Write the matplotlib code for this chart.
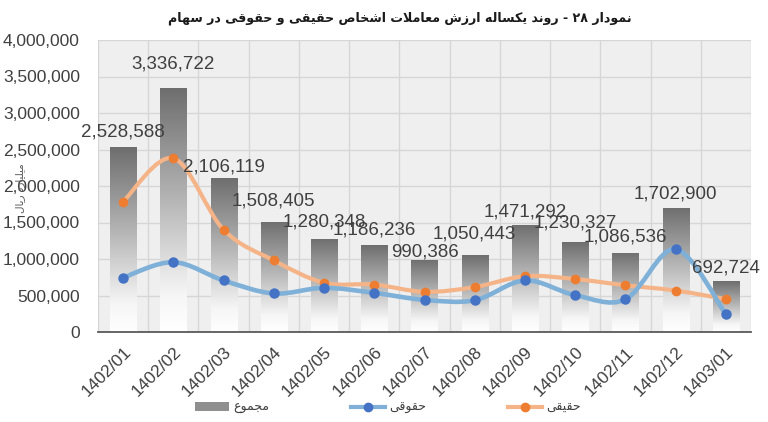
import numpy as np
import matplotlib
matplotlib.use('Agg')
import matplotlib.pyplot as plt
from matplotlib.path import Path
from matplotlib.patches import PathPatch, Patch
from matplotlib.lines import Line2D
from matplotlib.colors import LinearSegmentedColormap
from matplotlib.ticker import FuncFormatter, MultipleLocator

# ---------------- data ----------------
months = ['1402/01', '1402/02', '1402/03', '1402/04', '1402/05', '1402/06', '1402/07',
          '1402/08', '1402/09', '1402/10', '1402/11', '1402/12', '1403/01']
total = [2528588, 3336722, 2106119, 1508405, 1280348, 1186236, 990386,
         1050443, 1471292, 1230327, 1086536, 1702900, 692724]
real = [1785000, 2380000, 1400000, 980000, 675000, 650000, 550000,
        615000, 765000, 725000, 640000, 568000, 450000]
legal = [745000, 957000, 706000, 528000, 605000, 536000, 440000,
         435000, 706000, 505000, 446000, 1135000, 243000]

title_text = 'نمودار ۲۸ - روند یکساله ارزش معاملات اشخاص حقیقی و حقوقی در سهام'
ylabel_text = 'میلیارد ریال'
legend_total = 'مجموع'
legend_legal = 'حقوقی'
legend_real = 'حقیقی'

# vertical offsets (px) of value labels above bar tops (style)
label_dy_px = [15, 24, 11, 21, 17, 15, 8, 21, 13, 19, 16, 14, 13]

# ---------------- simple Arabic/Persian shaping ----------------
FORMS = {
    '\u0627': ('\uFE8D', '\uFE8E', None, None),
    '\u0628': ('\uFE8F', '\uFE90', '\uFE91', '\uFE92'),
    '\u062A': ('\uFE95', '\uFE96', '\uFE97', '\uFE98'),
    '\u062B': ('\uFE99', '\uFE9A', '\uFE9B', '\uFE9C'),
    '\u062C': ('\uFE9D', '\uFE9E', '\uFE9F', '\uFEA0'),
    '\u062D': ('\uFEA1', '\uFEA2', '\uFEA3', '\uFEA4'),
    '\u062E': ('\uFEA5', '\uFEA6', '\uFEA7', '\uFEA8'),
    '\u062F': ('\uFEA9', '\uFEAA', None, None),
    '\u0630': ('\uFEAB', '\uFEAC', None, None),
    '\u0631': ('\uFEAD', '\uFEAE', None, None),
    '\u0632': ('\uFEAF', '\uFEB0', None, None),
    '\u0633': ('\uFEB1', '\uFEB2', '\uFEB3', '\uFEB4'),
    '\u0634': ('\uFEB5', '\uFEB6', '\uFEB7', '\uFEB8'),
    '\u0635': ('\uFEB9', '\uFEBA', '\uFEBB', '\uFEBC'),
    '\u0636': ('\uFEBD', '\uFEBE', '\uFEBF', '\uFEC0'),
    '\u0637': ('\uFEC1', '\uFEC2', '\uFEC3', '\uFEC4'),
    '\u0638': ('\uFEC5', '\uFEC6', '\uFEC7', '\uFEC8'),
    '\u0639': ('\uFEC9', '\uFECA', '\uFECB', '\uFECC'),
    '\u063A': ('\uFECD', '\uFECE', '\uFECF', '\uFED0'),
    '\u0641': ('\uFED1', '\uFED2', '\uFED3', '\uFED4'),
    '\u0642': ('\uFED5', '\uFED6', '\uFED7', '\uFED8'),
    '\u0644': ('\uFEDD', '\uFEDE', '\uFEDF', '\uFEE0'),
    '\u0645': ('\uFEE1', '\uFEE2', '\uFEE3', '\uFEE4'),
    '\u0646': ('\uFEE5', '\uFEE6', '\uFEE7', '\uFEE8'),
    '\u0647': ('\uFEE9', '\uFEEA', '\uFEEB', '\uFEEC'),
    '\u0648': ('\uFEED', '\uFEEE', None, None),
    '\u067E': ('\uFB56', '\uFB57', '\uFB58', '\uFB59'),
    '\u0686': ('\uFB7A', '\uFB7B', '\uFB7C', '\uFB7D'),
    '\u0698': ('\uFB8A', '\uFB8B', None, None),
    '\u06A9': ('\uFB8E', '\uFB8F', '\uFB90', '\uFB91'),
    '\u06AF': ('\uFB92', '\uFB93', '\uFB94', '\uFB95'),
    '\u06CC': ('\uFBFC', '\uFBFD', '\uFBFE', '\uFBFF'),
}


def _joins_next(c):
    f = FORMS.get(c)
    return f is not None and f[2] is not None


def shape_word(word):
    if not any(c in FORMS for c in word):
        return word
    res = []
    n = len(word)
    i = 0
    while i < n:
        c = word[i]
        prev = word[i - 1] if i > 0 else None
        prev_conn = prev is not None and _joins_next(prev)
        if c == '\u0644' and i + 1 < n and word[i + 1] == '\u0627':
            res.append('\uFEFC' if prev_conn else '\uFEFB')
            i += 2
            continue
        if c not in FORMS:
            res.append(c)
            i += 1
            continue
        nxt = word[i + 1] if i + 1 < n else None
        next_conn = _joins_next(c) and nxt is not None and nxt in FORMS
        iso, fin, ini, med = FORMS[c]
        if prev_conn and next_conn:
            res.append(med)
        elif prev_conn:
            res.append(fin)
        elif next_conn:
            res.append(ini)
        else:
            res.append(iso)
        i += 1
    return ''.join(reversed(res))


def rtl(text):
    return ' '.join(reversed([shape_word(w) for w in text.split(' ')]))


# ---------------- figure ----------------
plt.rcParams['font.family'] = ['Liberation Sans', 'DejaVu Sans']
fig = plt.figure(figsize=(7.68, 4.22), dpi=100)
fig.patch.set_facecolor('white')
ax = fig.add_axes([98 / 768, 1 - 332 / 422, (751 - 98) / 768, (332 - 40) / 422])
ax.set_facecolor('#efefef')

x = np.arange(len(months))
text_col = '#404040'

# bars with vertical gradient
bars = ax.bar(x, total, width=0.52, color='none', edgecolor='none', zorder=2)
cmap = LinearSegmentedColormap.from_list(
    'g', [(0.0, '#ffffff'), (0.15, '#f6f6f6'), (0.55, '#b4b4b4'), (1.0, '#6e6e6e')])
grad = np.linspace(0, 1, 256).reshape(-1, 1)
for b in bars:
    x0, y0, w, h = b.get_x(), b.get_y(), b.get_width(), b.get_height()
    im = ax.imshow(grad, extent=[x0, x0 + w, y0, y0 + h], origin='lower',
                   cmap=cmap, aspect='auto', zorder=2, interpolation='bilinear')
    im.set_clip_path(b)

ax.set_xlim(-0.5, len(months) - 0.5)
ax.set_ylim(0, 4000000)


def smooth_path(xs, ys):
    pts = np.column_stack([xs, ys]).astype(float)
    n = len(pts)
    verts = [pts[0]]
    codes = [Path.MOVETO]
    for i in range(n - 1):
        p0 = pts[i - 1] if i > 0 else pts[i]
        p1 = pts[i]
        p2 = pts[i + 1]
        p3 = pts[i + 2] if i + 2 < n else pts[i + 1]
        c1 = p1 + (p2 - p0) / 6.0
        c2 = p2 - (p3 - p1) / 6.0
        verts += [c1, c2, p2]
        codes += [Path.CURVE4] * 3
    return Path(verts, codes)


blue_line, blue_mk = '#7fb0d8', '#4472c4'
orange_line, orange_mk = '#f5b488', '#ed7d31'

ax.add_patch(PathPatch(smooth_path(x, real), fill=False, edgecolor=orange_line,
                       lw=3.0, zorder=3, capstyle='round'))
ax.add_patch(PathPatch(smooth_path(x, legal), fill=False, edgecolor=blue_line,
                       lw=3.3, zorder=4, capstyle='round'))
ax.plot(x, real, linestyle='none', marker='o', ms=6, color=orange_mk, zorder=5)
ax.plot(x, legal, linestyle='none', marker='o', ms=6.5, color=blue_mk, zorder=6)

# value labels
for xi, v, dy in zip(x, total, label_dy_px):
    ax.annotate(f'{v:,}', xy=(xi, v), xytext=(0, dy * 72 / 100), textcoords='offset points',
                ha='center', va='center', fontsize=13.5, color=text_col, zorder=7)

# grid / spines
ax.yaxis.set_major_locator(MultipleLocator(500000))
ax.set_xticks(np.arange(-0.5, len(months), 1.0), minor=True)
ax.grid(True, which='major', axis='y', color='#d6d6d6', lw=1.0, zorder=0)
ax.grid(True, which='minor', axis='x', color='#d6d6d6', lw=1.0, zorder=0)
ax.set_axisbelow(True)
for s in ['top', 'right', 'left']:
    ax.spines[s].set_visible(False)
ax.spines['bottom'].set_color('#595959')
ax.spines['bottom'].set_linewidth(1.3)

ax.yaxis.set_major_formatter(FuncFormatter(lambda v, p: f'{int(v):,}'))
ax.tick_params(axis='y', length=0, pad=13, labelsize=12.5, labelcolor=text_col)
ax.tick_params(axis='x', which='both', length=0)
ax.set_xticks(x)
ax.set_xticklabels(months, rotation=45, ha='right', va='top', rotation_mode='anchor',
                   fontsize=12.5, color=text_col)
ax.tick_params(axis='x', pad=9)

# title
fig.text(0.521, 0.957, rtl(title_text), ha='center', va='center', fontsize=9.1,
         fontweight='bold', color='#1a1a1a', family=['DejaVu Sans'])

# y label
fig.text(20 / 768, 1 - 188 / 422, rtl(ylabel_text), rotation=90, ha='center', va='center',
         fontsize=7.5, color='#595959', family=['DejaVu Sans'])

# legend
handles = [
    Patch(facecolor='#8f8f8f', edgecolor='none'),
    Line2D([], [], color=blue_line, lw=3, marker='o', ms=6, mfc=blue_mk, mec=blue_mk),
    Line2D([], [], color=orange_line, lw=3, marker='o', ms=6, mfc=orange_mk, mec=orange_mk),
]
labels = [rtl(legend_total), rtl(legend_legal), rtl(legend_real)]
leg = fig.legend(handles, labels, loc='center', bbox_to_anchor=(0.505, 0.034), ncol=3,
                 frameon=False, columnspacing=6.6, handlelength=2.7, handletextpad=0.3,
                 prop={'family': ['DejaVu Sans'], 'size': 9})
for t in leg.get_texts():
    t.set_color(text_col)

fig.savefig('out.png', dpi=100)
